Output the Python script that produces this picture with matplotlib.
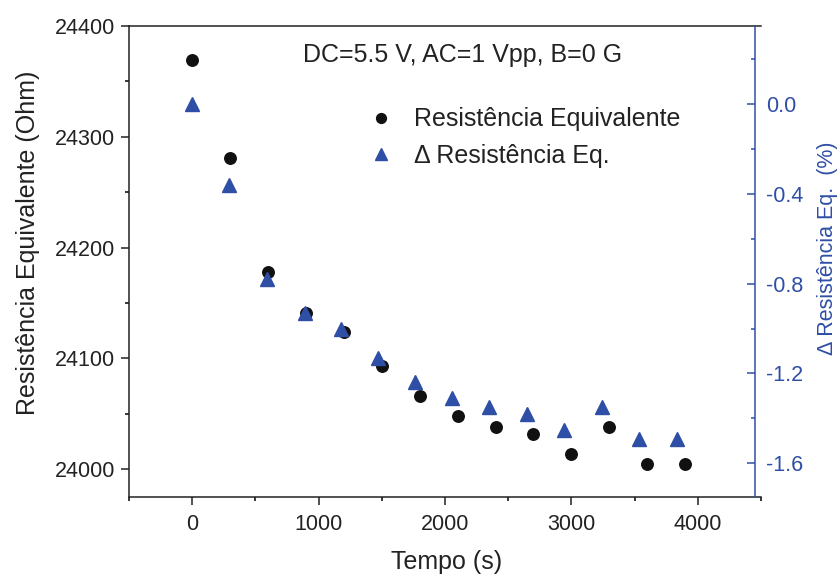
import numpy as np
import matplotlib
matplotlib.use("Agg")
import matplotlib.pyplot as plt
from matplotlib.ticker import MultipleLocator

plt.rcParams['font.family'] = ['Liberation Sans', 'DejaVu Sans']

# data
tempo = [0, 300, 600, 900, 1200, 1500, 1800, 2100, 2400, 2700, 3000, 3300, 3600, 3900]
resist = [24369, 24281, 24178, 24141, 24124, 24093, 24066, 24048, 24038, 24032,
          24014, 24038, 24005, 24005]
tempo_delta = [0, 290, 590, 895, 1180, 1470, 1765, 2055, 2350, 2650, 2940, 3240, 3535, 3835]
delta_pct = [0.0, -0.36, -0.78, -0.93, -1.00, -1.13, -1.24, -1.31, -1.35, -1.38,
             -1.45, -1.35, -1.49, -1.49]

blue = '#2F4FA6'
dark = '#222222'

fig = plt.figure(figsize=(8.39, 5.78), dpi=100)
ax = fig.add_axes([129/839, 1 - 497/578, (761-129)/839, (497-26)/578])
ax2 = ax.twinx()

h1, = ax.plot(tempo, resist, 'o', color='#111111', ms=8.3, ls='none')
h2, = ax2.plot(tempo_delta, delta_pct, '^', color=blue, ms=10, ls='none')

ax.set_xlim(-500, 4500)
ax.set_ylim(23975, 24400)
ax2.set_ylim(-1.75, 0.347)

ax.xaxis.set_major_locator(MultipleLocator(1000))
ax.xaxis.set_minor_locator(MultipleLocator(500))
ax.yaxis.set_major_locator(MultipleLocator(100))
ax.yaxis.set_minor_locator(MultipleLocator(50))
ax2.yaxis.set_major_locator(MultipleLocator(0.4))
ax2.yaxis.set_minor_locator(MultipleLocator(0.2))
ax2.yaxis.set_major_formatter(matplotlib.ticker.FormatStrFormatter('%.1f'))

ax.tick_params(axis='both', which='major', direction='out', length=6, width=1.1,
               labelsize=15.5, colors=dark)
ax.tick_params(axis='both', which='minor', direction='out', length=3, width=1.1)
ax.tick_params(axis='y', pad=4)
ax.tick_params(axis='x', pad=6)

for s in ['left', 'bottom', 'top']:
    ax.spines[s].set_linewidth(1.1)
    ax.spines[s].set_color(dark)
ax.spines['right'].set_visible(False)
for s in ['left', 'bottom', 'top']:
    ax2.spines[s].set_visible(False)
ax2.spines['right'].set_position(('axes', 0.99))
ax2.spines['right'].set_color(blue)
ax2.spines['right'].set_linewidth(1.1)
ax2.tick_params(axis='y', which='major', direction='in', length=6, width=1.1,
                colors=blue, labelsize=15.5, pad=8)
ax2.tick_params(axis='y', which='minor', direction='in', length=3, width=1.1, colors=blue)

ax.set_xlabel('Tempo (s)', fontsize=18, color=dark)
ax.set_ylabel('Resistência Equivalente (Ohm)', fontsize=18, color=dark)
ax2.set_ylabel('Δ Resistência Eq.  (%)', fontsize=15.5, color=blue)
ax.xaxis.set_label_coords(0.502, -0.113)
ax.yaxis.set_label_coords(-0.141, 0.540)
ax2.yaxis.set_label_coords(1.088, 0.529)

ax.text(0.275, 0.938, 'DC=5.5 V, AC=1 Vpp, B=0 G', transform=ax.transAxes,
        fontsize=18, color=dark, va='center', ha='left')

ax.legend([h1, h2], ['Resistência Equivalente', 'Δ Resistência Eq.'],
          loc='upper left', bbox_to_anchor=(0.34, 0.875), frameon=False,
          fontsize=18, handletextpad=0.7, labelspacing=0.5, handlelength=1.2,
          markerscale=0.85, labelcolor=dark)

fig.savefig('out.png', dpi=100)
